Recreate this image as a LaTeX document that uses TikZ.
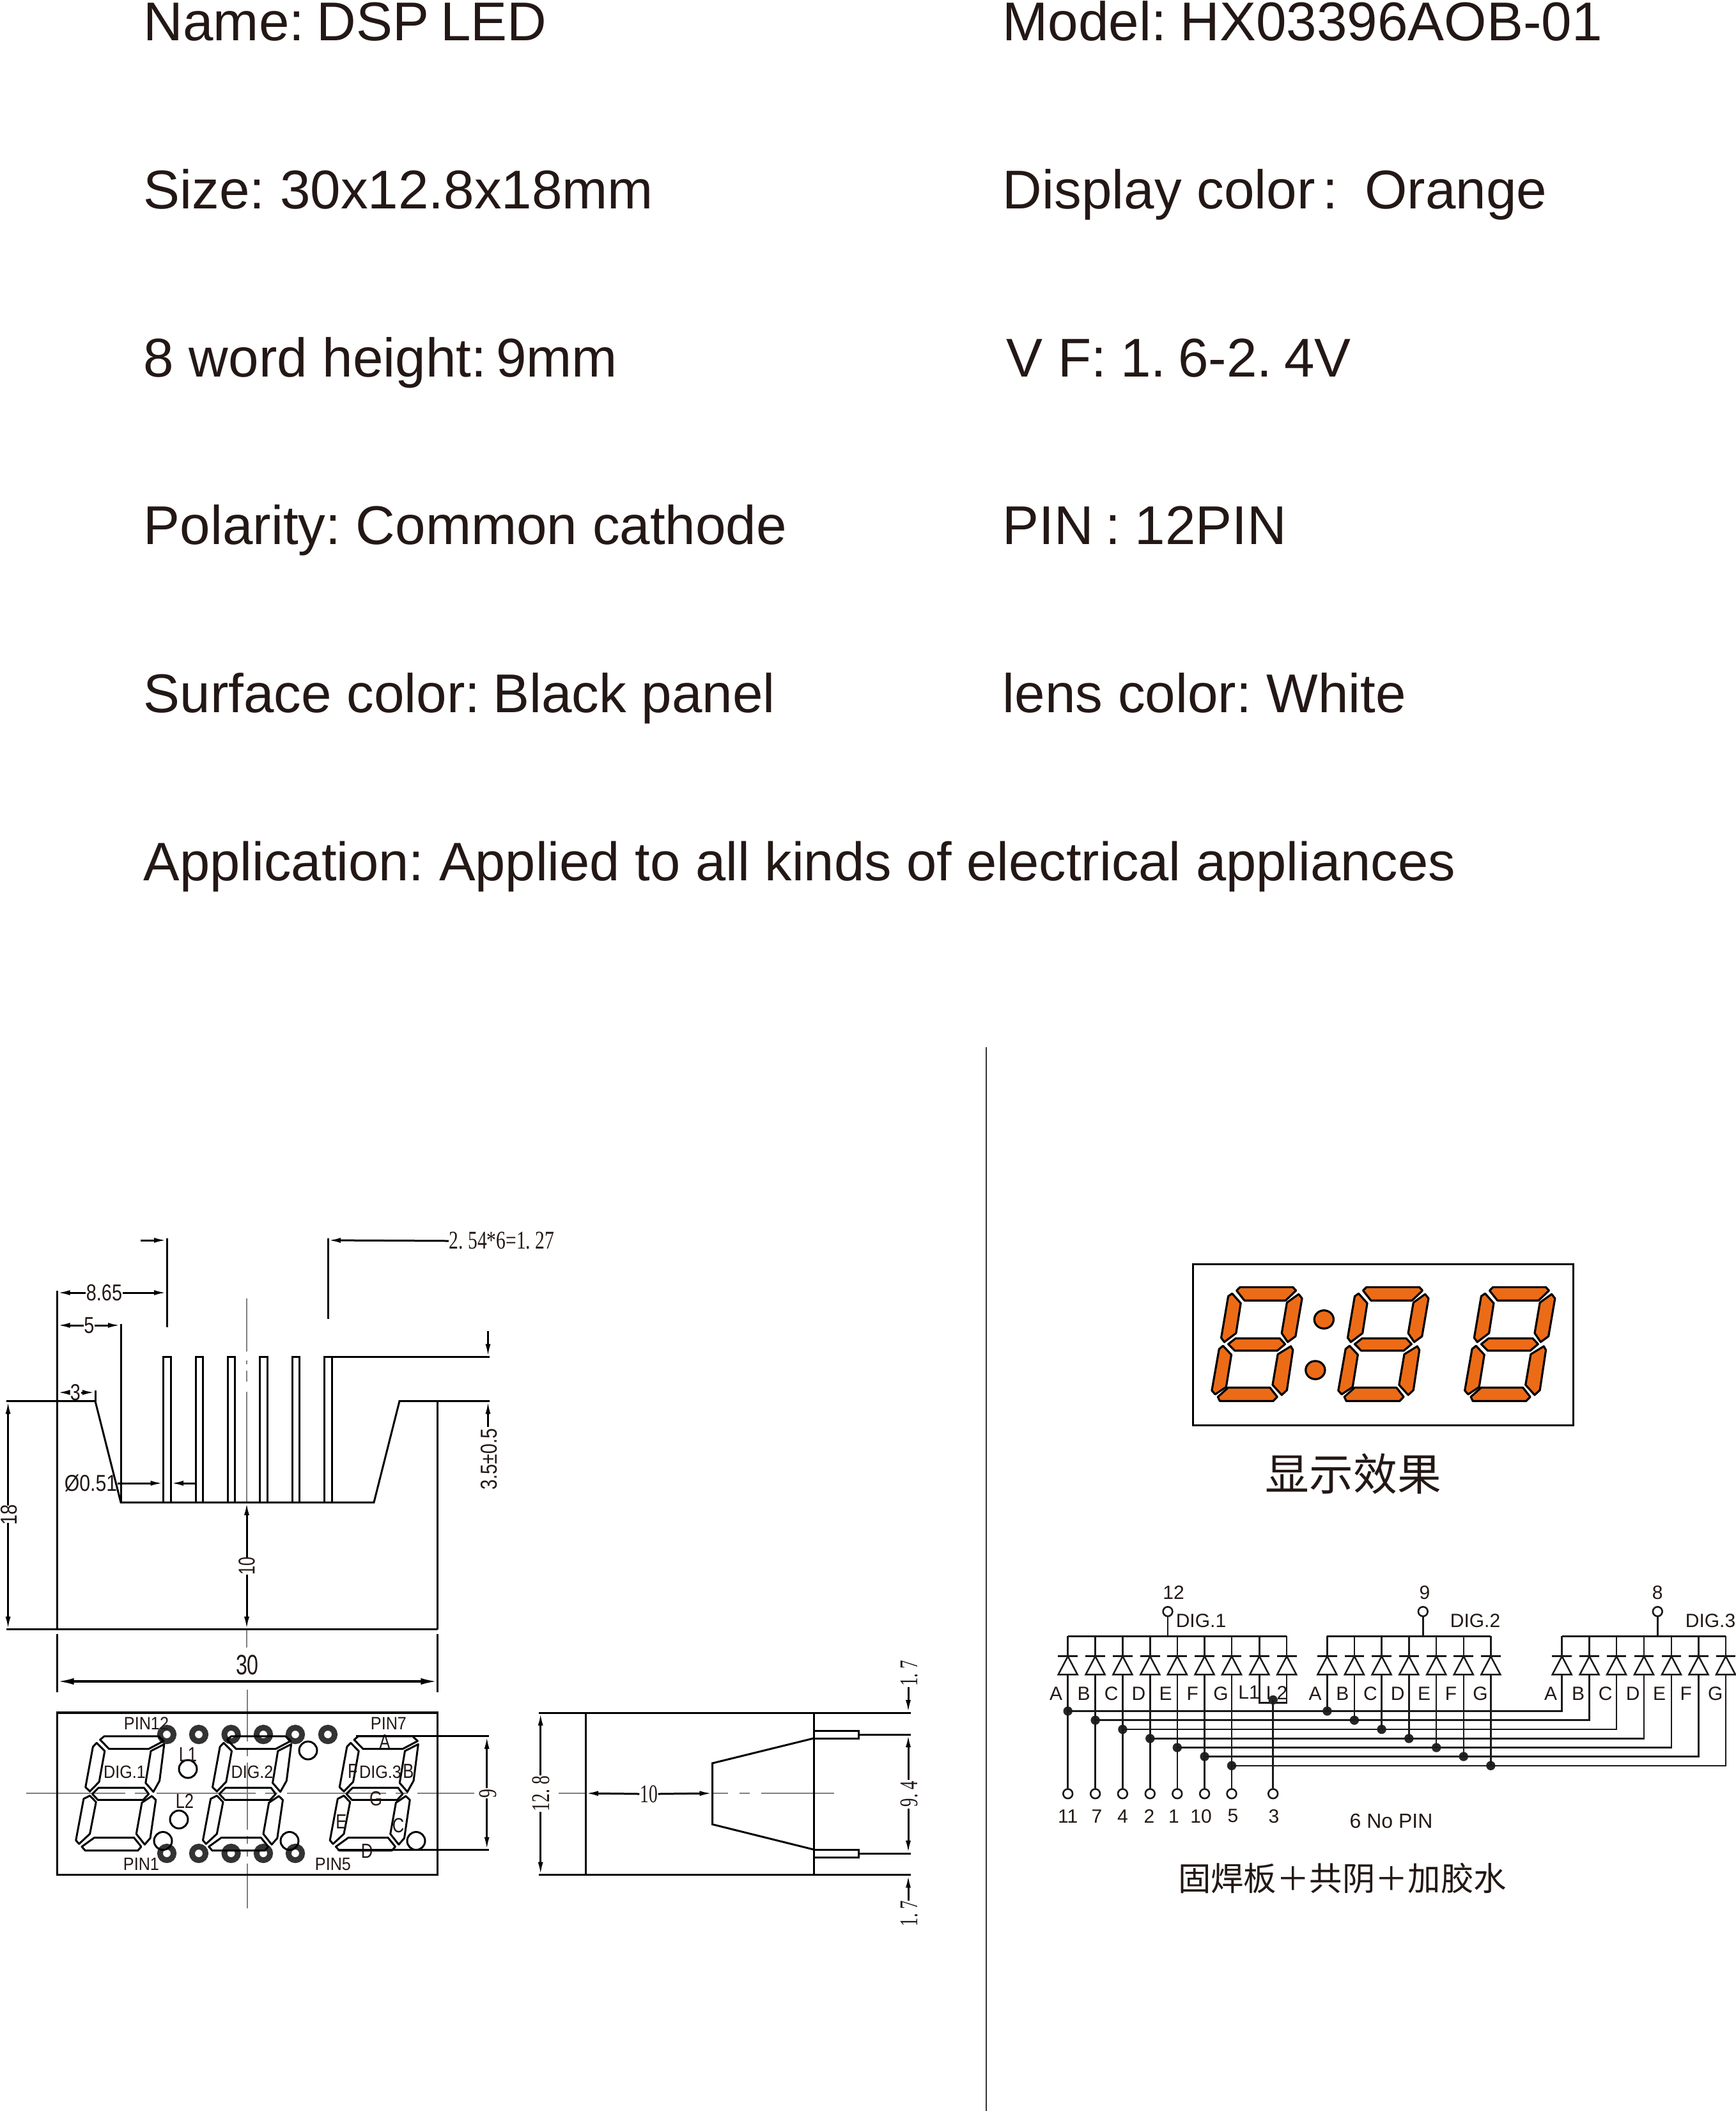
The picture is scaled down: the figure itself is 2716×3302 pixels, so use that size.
\documentclass[tikz,border=0pt]{standalone}
\usepackage{fontspec}
\setmainfont{Liberation Sans}
\newfontfamily\cadserif{Liberation Serif}
\newfontfamily\cjkfont{Noto Sans CJK SC}
\usetikzlibrary{arrows.meta}
\frenchspacing
\newcommand\fsz[1]{\fontsize{#1}{#1}\selectfont}
\definecolor{ink}{HTML}{231815}
\definecolor{segorange}{HTML}{EC6B17}
\tikzset{
  txt/.style={anchor=base west,inner sep=0pt,text=ink,font=\fsz{21.35}},
  lbl/.style={inner sep=0pt,text=ink},
  cad/.style={line width=.75pt,black,line join=miter},
  ctr/.style={line width=.35pt,black!50},
  dimarr/.style={line width=.75pt,black,-{Latex[length=5pt,width=2pt]}},
  bigarr/.style={line width=.85pt,black,{Latex[length=6.5pt,width=2.6pt]}-{Latex[length=6.5pt,width=2.6pt]}},
  sch/.style={line width=.62pt,black!90},
  pinc/.style={circle,draw=black!90,line width=.65pt,fill=white,minimum size=3.7pt,inner sep=0pt},
  dotj/.style={circle,fill=black!85,minimum size=3.6pt,inner sep=0pt},
  donut/.style={line width=2.25pt,black!80},
  seglit/.style={draw=black,fill=segorange,line width=.8pt,line join=round},
}
% sans dimension text; serif dimension text
\newcommand\dsan[2][.8]{\scalebox{#1}[1]{\fsz{9}#2}}
\newcommand\flab[2][.9]{\scalebox{#1}[1]{\fsz{7}#2}}
\newcommand\dser[2][.7]{\scalebox{#1}[1]{\cadserif\fsz{10}#2}}
\newcommand\schl[1]{\fsz{7.5}#1}
\newcommand\diode[1]{%
  \draw[sch] (#1-15.4,2590.7)--(#1+15.4,2590.7);
  \draw[sch] (#1,2590.7)--(#1-15,2619.3)--(#1+15,2619.3)--cycle;}
\newcommand\frontdigit{%
  \draw[cad,line join=round] (323,482)--(336,466)--(512,466)--(528,488)--(480,525)--(352,525)--cycle;
  \draw[cad,line join=round] (300,515)--(312,497)--(338,535)--(320,680)--(290,725)--(276,705)--cycle;
  \draw[cad,line join=round] (530,503)--(515,675)--(495,727)--(470,685)--(487,535)--cycle;
  \draw[cad,line join=round] (298,737)--(318,708)--(465,708)--(480,737)--(462,765)--(316,765)--cycle;
  \draw[cad,line join=round] (270,760)--(290,745)--(310,775)--(290,925)--(255,972)--(245,955)--cycle;
  \draw[cad,line join=round] (490,747)--(503,765)--(485,945)--(467,975)--(440,925)--(458,778)--cycle;
  \draw[cad,line join=round] (264,985)--(305,942)--(432,942)--(456,985)--(445,1003)--(275,1003)--cycle;}
\newcommand\litdigit{%
  \draw[seglit] (232,208)--(245,192)--(448,192)--(460,208)--(420,255)--(262,255)--cycle;
  \draw[seglit] (470,225)--(483,245)--(458,425)--(428,452)--(405,410)--(425,265)--cycle;
  \draw[seglit] (215,222)--(248,268)--(230,410)--(185,452)--(173,432)--(200,235)--cycle;
  \draw[seglit] (200,462)--(228,435)--(398,435)--(418,462)--(388,493)--(225,493)--cycle;
  \draw[seglit] (440,472)--(448,490)--(425,680)--(405,703)--(370,655)--(390,510)--cycle;
  \draw[seglit] (180,470)--(212,512)--(192,665)--(150,700)--(137,682)--(165,485)--cycle;
  \draw[seglit] (160,712)--(200,668)--(360,668)--(388,712)--(372,732)--(168,732)--cycle;}
\begin{document}
\begin{tikzpicture}[x=.25pt,y=-.25pt]
\fill[white] (0,0) rectangle (2716,3302);
\useasboundingbox (0,0) rectangle (2716,3302);

% ---------- specification text
\node[txt] (t1) at (224,63) {Name:\hspace{-1pt} DSP\hspace{-1.5pt} LED};
\node[txt] (t2) at (224,326) {Size: 30x12.8x18mm};
\node[txt] (t3) at (224,589) {8 word height:\hspace{-2.2pt} 9mm};
\node[txt] (t4) at (224,851) {Polarity: Common cathode};
\node[txt] (t5) at (224,1114) {Surface color:\hspace{-1pt} Black panel};
\node[txt,font=\fsz{21.22}] (t6) at (224,1377) {Application: Applied to all kinds of electrical appliances};
\node[txt] (r1) at (1568,63) {Model:\hspace{-.5pt} HX03396AOB-01};
\node[txt] (r2) at (1568,326) {Display color\hspace{3pt}:\hspace{10.5pt}Orange};
\node[txt] (r3) at (1574,589) {V F:\hspace{-.5pt} 1.\hspace{-1.2pt} 6-2.\hspace{-1.2pt} 4V};
\node[txt] (r4) at (1568,851) {PIN\hspace{4.7pt}:\hspace{5.5pt}12PIN};
\node[txt] (r5) at (1568,1114) {lens color: White};

% ---------- divider
\draw[line width=.5pt,black!80] (1543,1638)--(1543,3302);

% ---------- side view, centre line
\draw[ctr] (386,2031)--(386,2114) (386,2128)--(386,2134) (386,2144)--(386,2161) (386,2177)--(386,2350) (386,2549)--(386,2577);
% ---------- side view
\draw[cad] (10,2191.6)--(149,2191.6)--(189,2350)--(585,2350)--(625,2191.6)--(766,2191.6);
\draw[cad] (89.5,2019)--(89.5,2548.7);
\draw[cad] (684,2191.6)--(684,2548.7);
\draw[cad] (10,2548.7)--(684,2548.7);
\draw[cad] (189,2071)--(189,2350);
\draw[cad] (149,2174.6)--(149,2191.6);
\draw[cad] (261,1937)--(261,2076.4);
\draw[cad] (513,1937)--(513,2063);
\foreach \a/\b in {255.5/267,306/317,356/367.5,406.5/418,457/468.5,507.5/519}
  {\draw[cad] (\a,2350)--(\a,2122.4)--(\b,2122.4)--(\b,2350);}
\draw[cad] (519,2122.4)--(766,2122.4);
% dimensions, side view
\node[lbl] (d254) at (785,1941) {\dser[.74]{2. 54*6=1. 27}};
\draw[dimarr] (220,1940)--(261,1940);
\draw[dimarr] (d254.west)--(513,1940);
\node[lbl] (d865) at (163,2022) {\dsan{8.65}};
\draw[dimarr] (d865.west)--(89.5,2022);
\draw[dimarr] (d865.east)--(261,2022);
\node[lbl] (d5) at (139.5,2073) {\dsan{5}};
\draw[dimarr] (d5.west)--(89.5,2073);
\draw[dimarr] (d5.east)--(189,2073);
\node[lbl] (d3) at (118,2178) {\dsan{3}};
\draw[dimarr] (d3.west)--(89.5,2178);
\draw[dimarr] (d3.east)--(149,2178);
\node[lbl] (d051) at (142,2320) {\dsan[.84]{Ø0.51}};
\draw[dimarr] (d051.east)--(255.5,2320);
\draw[dimarr] (305,2320)--(267,2320);
\node[lbl,rotate=90] (d18) at (14,2369) {\dsan{18}};
\draw[dimarr] (12.6,2355)--(12.6,2191.6);
\draw[dimarr] (12.6,2382)--(12.6,2548.7);
\node[lbl,rotate=90] (d10) at (386,2449) {\dsan[.7]{10}};
\draw[dimarr] (386,2436)--(386,2350);
\draw[dimarr] (386,2463)--(386,2548.7);
\node[lbl,rotate=90] (d35) at (765,2282.5) {\dsan{3.5±0.5}};
\draw[dimarr] (763.5,2082)--(763.5,2122.4);
\draw[dimarr] (763.5,2232)--(763.5,2191.6);

% ---------- width dimension
\draw[cad] (89.7,2556)--(89.7,2647);
\draw[cad] (684.3,2556)--(684.3,2647);
\draw[bigarr] (89.7,2630)--(684.3,2630);
\node[lbl] (d30) at (387,2604) {\scalebox{.73}[1]{\fsz{11}30}};

% ---------- front view
\draw[ctr,dash pattern=on 38.75pt off 3.75pt on 4.75pt off 3.75pt] (41,2805)--(742,2805);
\draw[ctr] (387,2642.5)--(387,2724) (387,2735.6)--(387,2747) (387,2757)--(387,2862) (387,2872)--(387,2883.5) (387,2893.5)--(387,2903.5) (387,2915)--(387,2985);
\draw[cad,line width=.8pt] (89.7,2679) rectangle (684.3,2932.7);
\foreach \cx in {261,311,361.6,412,462,513} {\draw[donut] (\cx,2713) circle[radius=10.6];}
\foreach \cx in {261,311,361.6,412,462} {\draw[donut] (\cx,2899) circle[radius=10.6];}
\foreach \ox in {0,410,820}{
  \begin{scope}[shift={({\ox*.4847},2561)},xscale=.4847,yscale=.3325]
    \frontdigit
  \end{scope}
}
\foreach \cx/\cy in {294/2767,280/2846,255/2879.5,482/2738,453/2879.5,651/2879.5}
  {\draw[cad] (\cx,\cy) circle[radius=14];}
\node[lbl] (fp12) at (229,2696) {\flab{PIN12}};
\node[lbl] (fp7) at (608,2696) {\flab{PIN7}};
\node[lbl] (fp1) at (221,2916) {\flab{PIN1}};
\node[lbl] (fp5) at (521,2916) {\flab{PIN5}};
\node[lbl] (fd1) at (195,2772) {\flab{DIG.1}};
\node[lbl] (fd2) at (394.5,2772) {\flab{DIG.2}};
\node[lbl] (fd3) at (595,2772) {\flab{DIG.3}};
\node[lbl] (fl1) at (294,2744) {\scalebox{.8}[1]{\fsz{8}L1}};
\node[lbl] (fl2) at (289,2817) {\scalebox{.8}[1]{\fsz{8}L2}};
\node[lbl] (fsa) at (602,2724) {\scalebox{.8}[1]{\fsz{8}A}};
\node[lbl] (fsb) at (639,2770) {\scalebox{.8}[1]{\fsz{8}B}};
\node[lbl] (fsc) at (623,2855) {\scalebox{.8}[1]{\fsz{8}C}};
\node[lbl] (fsd) at (574,2895) {\scalebox{.8}[1]{\fsz{8}D}};
\node[lbl] (fse) at (534,2849) {\scalebox{.8}[1]{\fsz{8}E}};
\node[lbl] (fsf) at (552,2770) {\scalebox{.8}[1]{\fsz{8}F}};
\node[lbl] (fsg) at (588,2813) {\scalebox{.8}[1]{\fsz{8}G}};
% 9 dimension
\draw[cad] (557,2715.7)--(765,2715.7);
\draw[cad] (528,2893.5)--(765,2893.5);
\node[lbl,rotate=90] (d9) at (763,2805) {\dser{9}};
\draw[dimarr] (761.7,2797)--(761.7,2715.7);
\draw[dimarr] (761.7,2813)--(761.7,2893.5);

% ---------- end view
\draw[ctr] (874,2805)--(916,2805) (1114.5,2805)--(1139,2805) (1157,2805)--(1173,2805) (1191,2805)--(1305,2805);
\draw[cad] (842.7,2679)--(1424.5,2679);
\draw[cad] (842.7,2932.7)--(1424.5,2932.7);
\draw[cad] (916,2679)--(916,2932.7);
\draw[cad] (1273,2679)--(1273,2932.7);
\draw[cad,fill=white] (1273,2707) rectangle (1343,2719);
\draw[cad,fill=white] (1273,2893) rectangle (1343,2905);
\draw[cad] (1343,2713)--(1424.5,2713);
\draw[cad] (1343,2899)--(1424.5,2899);
\draw[cad] (1273,2719)--(1114.5,2758)--(1114.5,2853.6)--(1273,2893);
\node[lbl] (e10) at (1015,2806) {\dser[.69]{10}};
\draw[dimarr] (e10.west)--(916,2805);
\draw[dimarr] (e10.east)--(1114.5,2805);
\node[lbl,rotate=90] (e128) at (846,2805.5) {\dser[.69]{12. 8}};
\draw[dimarr] (845.7,2777)--(845.7,2679);
\draw[dimarr] (845.7,2834)--(845.7,2932.7);
\node[lbl,rotate=90] (e17a) at (1423,2617.5) {\dser[.67]{1. 7}};
\draw[dimarr] (1421,2639)--(1421,2679);
\node[lbl,rotate=90] (e94) at (1423,2806) {\dser[.67]{9. 4}};
\draw[dimarr] (1421,2784)--(1421,2713);
\draw[dimarr] (1421,2828.7)--(1421,2899);
\node[lbl,rotate=90] (e17b) at (1423,2993) {\dser[.67]{1. 7}};
\draw[dimarr] (1421,2973)--(1421,2932.7);

% ---------- lit display
\draw[line width=.75pt,black] (1866.5,1977.4) rectangle (2461.6,2229.5);
\foreach \ox in {0,485,970}{
  \begin{scope}[shift={({1840+\ox*.408},1950)},xscale=.408,yscale=.33]
    \litdigit
  \end{scope}
}
\begin{scope}[shift={(1840,1950)},xscale=.408,yscale=.33]
  \draw[seglit] (567,345) ellipse[x radius=37,y radius=43];
  \draw[seglit] (534,585) ellipse[x radius=37,y radius=43];
\end{scope}
\node[lbl] (cap1) at (2117.5,2305) {\cjkfont\fsz{17.2}显示效果};

% ---------- schematic: pins on top
\node[pinc] (p12) at (1827,2520.7) {};
\node[pinc] (p9) at (2226.3,2520.7) {};
\node[pinc] (p8) at (2593.3,2520.7) {};
\node[lbl] (n12) at (1836,2491) {\schl{12}};
\node[lbl] (n9) at (2229,2491) {\schl{9}};
\node[lbl] (n8) at (2593.3,2491) {\schl{8}};
\node[lbl] (dg1) at (1879,2535) {\schl{DIG.1}};
\node[lbl] (dg2) at (2308,2535) {\schl{DIG.2}};
\node[lbl] (dg3) at (2676,2535) {\schl{DIG.3}};
\coordinate (b1) at (1827,2559.3);
\coordinate (b2) at (2226.3,2559.3);
\coordinate (b3) at (2593.3,2559.3);
\draw[sch] (p12)--(b1);
\draw[sch] (p9)--(b2);
\draw[sch] (p8)--(b3);
\draw[sch] (1670.7,2559.3)--(2013.2,2559.3);
\draw[sch] (2076.4,2559.3)--(2332.3,2559.3);
\draw[sch] (2443.7,2559.3)--(2700,2559.3);

% diode groups and bus wires
\foreach \i/\xa/\xb/\xc/\yy/\pn/\lt/\la/\lb/\lc/\pl in {
  1/1670.7/2076.4/2443.7/2676.4/11/A/1652/2057.5/2426/1670.7,
  2/1713.6/2118.9/2486.6/2690.7/7/B/1695.7/2100.3/2469/1716,
  3/1756.4/2161.6/2529/2705/4/C/1738.6/2144/2511.8/1756.4,
  4/1799.3/2204.3/2572/2719.3/2/D/1781.4/2186.6/2554.7/1798,
  5/1841.8/2247.2/2615/2733.5/1/E/1823.5/2228/2596/1836.4,
  6/1884.6/2289.8/2657.5/2747.5/10/F/1865.7/2270/2637.7/1879,
  7/1927/2332.3/2700/2761.8/5/G/1910/2316/2683.7/1929}
{
  \diode{\xa}\diode{\xb}\diode{\xc}
  \draw[sch] (\xa,2559.3)--(\xa,2590.7);
  \draw[sch] (\xb,2559.3)--(\xb,2590.7);
  \draw[sch] (\xc,2559.3)--(\xc,2590.7);
  \node[pinc] (q\i) at (\xa,2805.7) {};
  \node[dotj] (ja\i) at (\xa,\yy) {};
  \node[dotj] (jb\i) at (\xb,\yy) {};
  \coordinate (jc\i) at (\xc,\yy);
  \draw[sch] (\xa,2619.3)--(q\i);
  \draw[sch] (\xb,2619.3)--(jb\i.center);
  \draw[sch] (ja\i.center)--(jc\i)--(\xc,2619.3);
  \node[lbl] (qn\i) at (\pl,2840.7) {\schl{\pn}};
  \node[lbl] (la\i) at (\la,2649.3) {\schl{\lt}};
  \node[lbl] (lb\i) at (\lb,2649.3) {\schl{\lt}};
  \node[lbl] (lc\i) at (\lc,2649.3) {\schl{\lt}};
}
% L1, L2 and pin 3
\diode{1970.3}\diode{2013.2}
\draw[sch] (1970.3,2559.3)--(1970.3,2590.7);
\draw[sch] (2013.2,2559.3)--(2013.2,2590.7);
\draw[sch] (1970.3,2619.3)--(1970.3,2663.5)--(2013.2,2663.5)--(2013.2,2619.3);
\node[lbl] (ll1) at (1954,2647.5) {\schl{L1}};
\node[lbl] (ll2) at (1997.5,2647.5) {\schl{L2}};
\node[dotj] (jl) at (1991.7,2659) {};
\node[pinc] (p3) at (1991.7,2805.7) {};
\draw[sch] (jl.center)--(p3);
\node[lbl] (n3) at (1993,2840.7) {\schl{3}};
\node[lbl] (nop) at (2176.5,2848.5) {\fsz{8}6 No PIN};
\node[lbl] (cap2) at (2100,2938) {\cjkfont\fsz{12.85}固焊板＋共阴＋加胶水};
\end{tikzpicture}
\end{document}
